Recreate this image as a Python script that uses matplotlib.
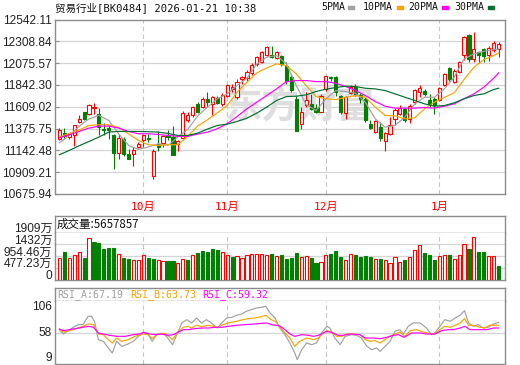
import matplotlib
matplotlib.use('Agg')
import matplotlib.pyplot as plt
from matplotlib.patches import Rectangle
import numpy as np

# ---------------- data ----------------
opens = [11267, 11331, 11285, 11302, 11445, 11551, 11534, 11594, 11534, 11374,
         11381, 11302, 11117, 11260, 11107, 11107, 11178, 11249, 11277, 10869,
         11214, 11224, 11302, 11285, 11214, 11277, 11462, 11516, 11640, 11605,
         11694, 11640, 11704, 11640, 11722, 11800, 11708, 11907, 11914, 11971,
         12067, 12092, 12166, 12163, 12131, 12149, 12049, 11925, 11694, 11427,
         11630, 11640, 11594, 11558, 11800, 11932, 11932, 11722, 11544, 11758,
         11818, 11736, 11694, 11427, 11338, 11391, 11238, 11320, 11473, 11534,
         11580, 11480, 11658, 11765, 11782, 11676, 11694, 11683, 11843, 12021,
         11871, 11985, 12166, 12376, 12120, 12191, 12227, 12166, 12220, 12227]
highs = [11381, 11381, 11331, 11416, 11526, 11558, 11640, 11647, 11594, 11437,
         11416, 11320, 11320, 11285, 11160, 11178, 11231, 11320, 11320, 11160,
         11349, 11302, 11356, 11398, 11249, 11562, 11551, 11615, 11658, 11718,
         11765, 11729, 11722, 11758, 11850, 11854, 11907, 11942, 12006, 12074,
         12156, 12209, 12255, 12263, 12202, 12163, 12085, 11960, 11729, 11605,
         11765, 11747, 11640, 11747, 11942, 11942, 11935, 11736, 11729, 11843,
         11847, 11758, 11711, 11462, 11469, 11445, 11338, 11498, 11594, 11630,
         11605, 11640, 11800, 11843, 11800, 11747, 11711, 11818, 11967, 12038,
         12014, 12103, 12369, 12383, 12412, 12209, 12234, 12255, 12309, 12298]
lows = [11249, 11260, 11267, 11185, 11437, 11462, 11516, 11534, 11302, 11302,
        11260, 10940, 11054, 11082, 11046, 10972, 11167, 11178, 11231, 10833,
        11135, 11178, 11249, 11089, 11135, 11267, 11445, 11498, 11544, 11594,
        11605, 11516, 11637, 11622, 11711, 11765, 11694, 11854, 11889, 11950,
        12049, 12074, 12156, 12131, 12120, 12049, 11854, 11765, 11349, 11374,
        11605, 11569, 11541, 11551, 11782, 11889, 11722, 11534, 11480, 11747,
        11722, 11651, 11445, 11374, 11327, 11238, 11132, 11310, 11409, 11523,
        11445, 11434, 11640, 11711, 11729, 11605, 11534, 11669, 11836, 11889,
        11864, 11971, 12113, 12092, 12092, 12074, 12085, 12103, 12198, 12138]
closes = [11356, 11295, 11320, 11409, 11480, 11480, 11630, 11605, 11391, 11356,
          11356, 11117, 11277, 11100, 11046, 11142, 11214, 11302, 11260, 11135,
          11178, 11295, 11285, 11089, 11242, 11541, 11526, 11605, 11558, 11694,
          11658, 11711, 11651, 11740, 11843, 11818, 11878, 11925, 11985, 12060,
          12138, 12191, 12245, 12142, 12191, 12067, 11889, 11793, 11349, 11551,
          11683, 11587, 11551, 11729, 11935, 11914, 11772, 11551, 11711, 11825,
          11747, 11694, 11462, 11384, 11455, 11277, 11327, 11409, 11569, 11594,
          11469, 11622, 11790, 11807, 11747, 11640, 11630, 11807, 11960, 11907,
          11996, 12092, 12358, 12120, 12227, 12163, 12149, 12238, 12291, 12280]

# moving averages read at every second bar
ma_idx = [0, 2, 4, 6, 8, 10, 12, 14, 16, 18, 20, 22, 24, 26, 28, 30, 32, 34, 36, 38,
          40, 42, 44, 46, 48, 50, 52, 54, 56, 58, 60, 62, 64, 66, 68, 70, 72, 74, 76, 78,
          80, 82, 84, 86, 88, 89]
ma5 = [11224, 11302, 11402, 11480, 11516, 11462, 11320, 11196, 11153, 11178,
       11214, 11196, 11285, 11366, 11509, 11605, 11694, 11747, 11836, 11914,
       12067, 12138, 12156, 12067, 11836, 11633, 11569, 11694, 11782, 11772,
       11754, 11658, 11480, 11391, 11409, 11498, 11640, 11711, 11711, 11800,
       11925, 12120, 12174, 12202, 12220, 12227]
ma10 = [11285, 11324, 11360, 11409, 11416, 11416, 11388, 11320, 11249, 11203,
        11196, 11203, 11203, 11292, 11402, 11470, 11544, 11622, 11765, 11871,
        11971, 12024, 12067, 12049, 11960, 11836, 11718, 11694, 11686, 11708,
        11729, 11711, 11605, 11516, 11512, 11480, 11491, 11587, 11658, 11708,
        11758, 11900, 12031, 12113, 12156, 12184]
ma20 = [11277, 11309, 11345, 11381, 11402, 11402, 11381, 11345, 11320, 11320,
        11313, 11302, 11292, 11292, 11317, 11338, 11374, 11427, 11505, 11587,
        11658, 11729, 11800, 11878, 11889, 11889, 11878, 11878, 11861, 11825,
        11782, 11729, 11665, 11615, 11594, 11594, 11594, 11601, 11594, 11615,
        11640, 11694, 11747, 11818, 11914, 11971]
ma30 = [11096, 11142, 11192, 11238, 11285, 11338, 11345, 11345, 11345, 11342,
        11338, 11324, 11302, 11302, 11327, 11370, 11409, 11423, 11452, 11487,
        11541, 11605, 11676, 11718, 11722, 11736, 11772, 11797, 11814, 11829,
        11825, 11807, 11800, 11782, 11747, 11711, 11676, 11640, 11615, 11622,
        11651, 11694, 11729, 11747, 11793, 11807]

# volume in 万 and up(1)/down(0) colouring
volumes = [886, 1132, 886, 996, 1132, 886, 1705, 1541, 1500, 1255,
           1296, 1296, 1023, 886, 818, 805, 805, 996, 886, 818,
           791, 750, 750, 750, 682, 832, 805, 996, 1091, 1159,
           1132, 1228, 1186, 1132, 996, 927, 955, 859, 996, 1023,
           1050, 1023, 996, 1050, 955, 996, 846, 887, 1091, 914,
           955, 887, 682, 723, 996, 1050, 1173, 928, 791, 1037,
           996, 928, 955, 914, 846, 846, 791, 668, 914, 709,
           805, 914, 1200, 1405, 1091, 996, 805, 955, 996, 996,
           818, 996, 1459, 1255, 1732, 1132, 1132, 955, 955, 565.79]
vol_up = [1, 0, 1, 1, 1, 0, 1, 0, 0, 0, 0, 0, 1, 0, 0, 1, 1, 1, 0, 0,
          1, 1, 0, 0, 1, 1, 0, 1, 0, 0, 0, 0, 0, 1, 1, 0, 1, 1, 1, 1,
          1, 1, 1, 0, 1, 0, 0, 0, 0, 1, 1, 0, 0, 1, 1, 0, 0, 0, 1, 1,
          0, 0, 0, 0, 1, 0, 1, 1, 1, 1, 0, 1, 1, 1, 0, 0, 0, 1, 1, 0,
          1, 1, 1, 0, 1, 0, 0, 1, 1, 0]

# RSI readings (bar position, value)
rsi_a_idx = [0, 0.8, 2.8, 3.8, 4.8, 5.8, 6.5, 7.1, 7.9, 8.9, 9.9, 10.7, 11.6, 12.6, 13.6,
             15, 16, 17, 18, 18.8, 19.7, 21.1, 21.7, 22.9, 23.8, 24.8, 25.8, 26.8, 27.8,
             28.8, 29.8, 30.8, 32, 32.9, 33.9, 34.9, 35.9, 36.9, 37.9, 38.9, 40, 41, 41.8,
             42.7, 43.7, 44.6, 45.7, 46.7, 47.7, 48.2, 49.1, 50.1, 51.1, 52.1, 53.1, 54.2,
             54.8, 55.8, 56.9, 57.9, 59.2, 60.2, 61.2, 62.3, 63.3, 64.3, 65, 66, 67, 68,
             69, 69.7, 70.7, 71.7, 73.1, 74.4, 75.4, 76.1, 77.1, 78.1, 79.2, 80.2, 81.2,
             82.1, 82.9, 83.9, 84.9, 85.9, 86.9, 88, 89]
rsi_a = [62.1, 55.4, 65.8, 69.9, 69.9, 82.8, 82.8, 75.0, 46.7, 44.1, 33.8, 26.0, 44.1,
         36.3, 38.9, 44.1, 51.8, 57.0, 54.4, 44.1, 54.4, 55.4, 51.8, 38.9, 54.4, 72.5,
         77.6, 72.5, 80.2, 72.5, 77.6, 72.5, 64.7, 72.5, 80.2, 81.2, 84.3, 86.4, 90.5,
         93.1, 95.7, 96.7, 98.3, 87.9, 80.2, 65.2, 54.4, 41.5, 26.0, 15.7, 31.2, 41.5,
         38.9, 41.5, 57.0, 67.3, 64.7, 49.2, 38.9, 51.8, 54.4, 53.4, 49.2, 36.3, 31.2,
         33.8, 28.6, 36.3, 44.1, 59.6, 62.1, 55.4, 67.3, 72.5, 72.5, 64.7, 54.4, 57.0,
         67.3, 77.6, 75.0, 80.2, 84.3, 91.6, 72.5, 67.3, 69.9, 64.7, 65.8, 70.9, 73.5]
rsi_b_idx = [0, 0.8, 2.8, 4.8, 5.8, 6.9, 7.9, 8.9, 9.9, 10.7, 11.6, 12.6, 14, 15.3, 17,
             18, 18.8, 20, 21.4, 22.9, 24.1, 25.1, 26.1, 26.8, 27.8, 28.8, 30.2, 32.2,
             33.2, 34.2, 35.9, 36.9, 38.3, 39.6, 41, 41.8, 42.9, 43.7, 44.6, 45.7, 46.7,
             47.7, 48.7, 50.1, 51.5, 52.5, 53.5, 54.2, 55.2, 56.2, 57.2, 58.2, 59.6, 60.9,
             62, 63, 64, 65, 66, 67, 68, 69, 70, 71.1, 72.4, 73.8, 75.4, 76.1, 77.1, 78.1,
             79.2, 80.2, 81.2, 82.1, 82.9, 83.9, 85.2, 86.2, 87.2, 89]
rsi_b = [62.1, 58.5, 62.1, 67.3, 70.9, 69.9, 55.4, 54.4, 46.7, 41.5, 49.2, 44.1, 46.7,
         51.8, 55.4, 54.4, 48.2, 55.4, 56.5, 46.7, 58.5, 65.8, 67.3, 64.7, 68.9, 66.8,
         68.9, 65.8, 69.9, 72.5, 75.0, 77.1, 79.2, 80.2, 82.3, 84.3, 77.6, 75.0, 67.3,
         57.0, 49.2, 36.3, 44.1, 49.2, 46.7, 49.2, 57.0, 60.6, 58.5, 51.8, 51.8, 55.4,
         55.4, 54.4, 46.7, 44.1, 45.1, 41.5, 46.7, 51.8, 55.4, 58.5, 51.8, 60.6, 62.1,
         58.5, 55.4, 55.4, 62.1, 67.3, 65.8, 68.9, 72.5, 79.2, 68.9, 68.9, 65.8, 64.7,
         68.9, 68.9]
rsi_c_idx = [0, 0.8, 2.8, 4.8, 5.8, 6.9, 7.9, 8.9, 10.2, 11.6, 13.3, 15, 16.3, 17, 18.3,
             19.4, 20.7, 22.1, 23.1, 24.1, 25.1, 26.1, 27.5, 28.8, 30.2, 31.5, 32.9, 34.2,
             35.9, 37.6, 39.6, 41, 42, 43, 44.6, 45.7, 46.7, 47.7, 49.1, 50.4, 51.5, 52.5,
             53.5, 54.2, 55.5, 56.5, 57.5, 58.9, 60.9, 62, 63.6, 65, 66.3, 67.7, 68.7, 69.8,
             71.4, 73.1, 74.4, 76.1, 77.5, 78.8, 79.8, 81.2, 82.2, 83.2, 84.6, 86.6, 88, 89]
rsi_c = [63.2, 60.6, 63.2, 65.8, 67.3, 65.8, 57.0, 55.4, 53.4, 51.8, 51.8, 54.4, 55.4,
         58.0, 55.4, 54.4, 55.4, 53.4, 54.4, 58.5, 62.1, 62.1, 63.7, 64.7, 64.7, 65.8,
         65.8, 67.3, 68.9, 69.9, 70.9, 71.9, 72.5, 69.9, 68.0, 62.1, 55.4, 51.8, 54.4,
         53.4, 51.8, 53.4, 57.0, 59.6, 57.0, 53.4, 53.4, 55.4, 54.4, 49.2, 49.2, 48.2,
         50.3, 53.4, 54.4, 50.3, 57.0, 57.0, 55.4, 55.4, 60.6, 62.1, 62.1, 64.7, 67.3,
         62.1, 62.1, 62.1, 64.7, 64.7]

price_ticks = [12542.11, 12308.84, 12075.57, 11842.30, 11609.02, 11375.75,
               11142.48, 10909.21, 10675.94]
vol_ticks = [1909, 1432, 954.46, 477.23, 0]
vol_tick_labels = ['1909万', '1432万', '954.46万', '477.23万', '0']
rsi_ticks = [106, 58, 9]
month_start_idx = [17, 34, 54, 77]
month_labels = ['10月', '11月', '12月', '1月']

title = '贸易行业[BK0484] 2026-01-21 10:38'
last_volume = '5657857'
rsi_names = ['RSI_A', 'RSI_B', 'RSI_C']
rsi_last = ['67.19', '63.73', '59.32']
ma_names = ['5PMA', '10PMA', '20PMA', '30PMA']
watermark = '东方财富'

# ---------------- style ----------------
RED = '#ff0000'
GREEN = '#008000'
FRAME = '#8c8c8c'
GRID = '#d4d4d4'
VGRID = '#c4c4c4'
MA_COLORS = ['#a0a0a0', '#f5a400', '#ff00ff', '#006e30']
RSI_COLORS = ['#a0a0a0', '#f5a400', '#ff00ff']
MONO = ['DejaVu Sans Mono', 'Noto Sans CJK SC']
NUM = ['Liberation Sans', 'Noto Sans CJK SC']
TXT = '#222222'

W, H = 520, 365
fig = plt.figure(figsize=(W / 100, H / 100), dpi=100)
fig.patch.set_facecolor('white')


def axes_px(x0, y0, x1, y1):
    return fig.add_axes([x0 / W, 1 - y1 / H, (x1 - x0) / W, (y1 - y0) / H])


def style_frame(ax):
    for s in ax.spines.values():
        s.set_color(FRAME)
        s.set_linewidth(1.0)
    ax.set_xticks([])
    ax.set_facecolor('white')


XLIM = (-0.9, 90.3)
n = len(closes)
idx = np.arange(n)
o = np.array(opens, float)
c = np.array(closes, float)
h = np.array(highs, float)
l = np.array(lows, float)

# ---------------- main price panel ----------------
ax = axes_px(55, 19.5, 505, 194)
style_frame(ax)
ax.set_xlim(*XLIM)
ax.set_ylim(price_ticks[-1], price_ticks[0])
for t in price_ticks[1:-1]:
    ax.axhline(t, color=GRID, lw=0.9, zorder=0)
for m in month_start_idx:
    ax.axvline(m, color=VGRID, lw=0.8, ls=(0, (4, 3)), zorder=0)
ax.set_yticks(price_ticks)
ax.set_yticklabels([f'{t:.2f}' for t in price_ticks], family=NUM, fontsize=8.6, color=TXT)
ax.tick_params(axis='y', direction='in', length=3, color=FRAME, pad=2.5)

ax.text(0.545, 0.50, watermark, transform=ax.transAxes, ha='center', va='center',
        fontsize=27, color='#dedede', family=['Noto Sans CJK SC'], zorder=0.5,
        fontweight='bold')

up = c >= o
ax.vlines(idx[up], l[up], h[up], color=RED, lw=0.8, zorder=3)
ax.vlines(idx[~up], l[~up], h[~up], color=GREEN, lw=0.8, zorder=3)
body_lo = np.minimum(o, c)
body_h = np.maximum(np.abs(c - o), 4)
ax.bar(idx[up], body_h[up], 0.64, bottom=body_lo[up], facecolor='white',
       edgecolor=RED, lw=0.8, zorder=4)
ax.bar(idx[~up], body_h[~up], 0.64, bottom=body_lo[~up], facecolor=GREEN,
       edgecolor=GREEN, lw=0.8, zorder=4)

for vals, col in zip([ma5, ma10, ma20, ma30], MA_COLORS):
    ax.plot(ma_idx, vals, color=col, lw=0.85, zorder=5)

for m, lab in zip(month_start_idx, month_labels):
    ax.annotate(lab, xy=(m, 0), xycoords=('data', 'axes fraction'), xytext=(0, -9),
                textcoords='offset points', ha='center', va='center', color=RED,
                fontsize=8, family=MONO)

# ---------------- title & legend ----------------
fig.text(55 / W, 1 - 7.5 / H, title, ha='left', va='center', fontsize=7.6,
         family=MONO, color='#111111')
leg_text_x = [321, 363, 408, 454]
leg_rect_x = [348, 396.5, 442, 488]
for name, tx, rx, col in zip(ma_names, leg_text_x, leg_rect_x, MA_COLORS):
    fig.text(tx / W, 1 - 7.5 / H, name, ha='left', va='center', fontsize=7.1,
             family=MONO, color='#111111')
    fig.add_artist(Rectangle((rx / W, 1 - 8.8 / H), 6 / W, 3 / H,
                             transform=fig.transFigure, color=col))

# ---------------- volume panel ----------------
axh = axes_px(55, 216, 505, 232.5)
style_frame(axh)
axh.set_yticks([])
axh.text(2 / 450, 0.5, '成交量:' + last_volume, transform=axh.transAxes, ha='left',
         va='center', fontsize=8.3, family=['Noto Sans CJK SC'], color='#111111')

axv = axes_px(55, 232.5, 505, 279.5)
style_frame(axv)
axv.spines['top'].set_visible(False)
axv.set_xlim(*XLIM)
axv.set_ylim(0, 1909)
for t in vol_ticks[1:-1]:
    axv.axhline(t, color=GRID, lw=0.9, zorder=0)
for m in month_start_idx:
    axv.axvline(m, color=VGRID, lw=0.8, ls=(0, (4, 3)), zorder=0)
axv.set_yticks([])
for t, lab in zip(vol_ticks, vol_tick_labels):
    axv.annotate(lab, xy=(0, t), xycoords=('axes fraction', 'data'), xytext=(-2, 2.5),
                 textcoords='offset points', ha='right', va='center', fontsize=8.6,
                 family=NUM, color=TXT, annotation_clip=False)
vu = np.array(vol_up, bool)
vol = np.array(volumes, float)
axv.bar(idx[vu], vol[vu], 0.64, facecolor='white', edgecolor=RED, lw=0.8, zorder=3)
axv.bar(idx[~vu], vol[~vu], 0.64, facecolor=GREEN, edgecolor=GREEN, lw=0.8, zorder=3)

# ---------------- RSI panel ----------------
axrh = axes_px(55, 288.3, 505, 301.3)
style_frame(axrh)
axrh.set_yticks([])
rsi_hdr_x = [57.5, 130, 202]
for name, val, col, xx in zip(rsi_names, rsi_last, RSI_COLORS, rsi_hdr_x):
    fig.text(xx / W, 1 - 295 / H, f'{name}:{val}', ha='left', va='center',
             fontsize=7.1, family=MONO, color=col)

axr = axes_px(55, 301.3, 505, 364)
style_frame(axr)
axr.spines['top'].set_visible(False)
axr.set_xlim(*XLIM)
axr.set_ylim(9, 106)
axr.axhline(57.5, color=GRID, lw=0.9, zorder=0)
for m in month_start_idx:
    axr.axvline(m, color=VGRID, lw=0.8, ls=(0, (4, 3)), zorder=0)
axr.set_yticks([])
for t, va in zip(rsi_ticks, ['top', 'center', 'bottom']):
    yy = 57.5 if t == 58 else t
    axr.annotate(str(t), xy=(0, yy), xycoords=('axes fraction', 'data'), xytext=(-2, 0),
                 textcoords='offset points', ha='right', va=va, fontsize=8.6,
                 family=NUM, color=TXT, annotation_clip=False)
for xs, ys, col in zip([rsi_a_idx, rsi_b_idx, rsi_c_idx], [rsi_a, rsi_b, rsi_c], RSI_COLORS):
    axr.plot(xs, ys, color=col, lw=0.85, zorder=3)

fig.savefig('out.png', dpi=100, facecolor='white')
